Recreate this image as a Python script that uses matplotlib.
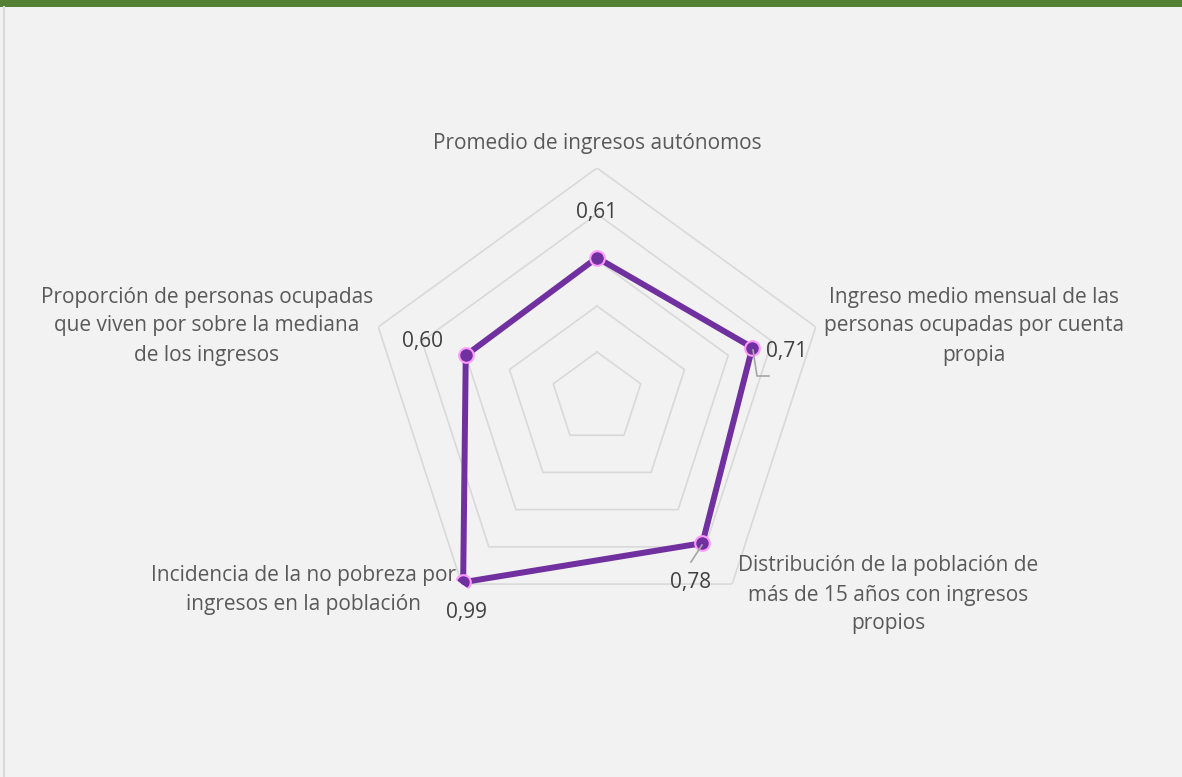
import numpy as np
import matplotlib.pyplot as plt
from matplotlib.lines import Line2D
from matplotlib.patches import Rectangle

plt.rcParams['font.family'] = ['Open Sans', 'DejaVu Sans']

# Data
categorias = ['Promedio de ingresos autónomos',
              'Ingreso medio mensual de las\npersonas ocupadas por cuenta\npropia',
              'Distribución de la población de\nmás de 15 años con ingresos\npropios',
              'Incidencia de la no pobreza por\ningresos en la población',
              'Proporción de personas ocupadas\nque viven por sobre la mediana\nde los ingresos']
valores = [0.61, 0.71, 0.78, 0.99, 0.60]
etiquetas = ['0,61', '0,71', '0,78', '0,99', '0,60']
anillos = [0.2, 0.4, 0.6, 0.8, 1.0]

W, H = 1182, 777
fig = plt.figure(figsize=(W / 100, H / 100), dpi=100)
fig.patch.set_facecolor('#f2f2f2')

def px(x, y):
    # pixel coords (from top-left) -> figure fraction
    return x / W, 1 - y / H

# green header bar and left border
fig.add_artist(Rectangle((0, 1 - 7 / H), 1, 7 / H, transform=fig.transFigure,
                         facecolor='#548235', edgecolor='none'))
fig.add_artist(Line2D([4 / W, 4 / W], [0, 1 - 7 / H], transform=fig.transFigure,
                      color='#d9d9d9', lw=1.5))

# radar axes: center (597, 398), radius 230 px
cx, cy, R = 597, 398, 230
ax = fig.add_axes([(cx - R) / W, (H - cy - R) / H, 2 * R / W, 2 * R / H], projection='polar')
ax.set_facecolor('none')
ax.set_theta_zero_location('N')
ax.set_theta_direction(-1)
ax.set_ylim(0, 1)
ax.grid(False)
ax.spines['polar'].set_visible(False)
ax.set_xticks([])
ax.set_yticks([])

n = len(valores)
ang = np.linspace(0, 2 * np.pi, n, endpoint=False)
ang_c = np.append(ang, ang[0])

for r in anillos:
    ax.plot(ang_c, [r] * (n + 1), color='#d9d9d9', lw=1.2, zorder=1)

vals_c = np.append(valores, valores[0])
ax.plot(ang_c, vals_c, color='#7030a0', lw=4.3, zorder=3, solid_joinstyle='miter')
ax.plot(ang, valores, 'o', color='#7030a0', markersize=10.5,
        markeredgecolor='#ff99ff', markeredgewidth=1.5, zorder=4)

# data labels (offsets in pixels)
offs = [(0, 45), (34, -4), (-12, -39), (3, -30), (-43, 14)]
for a, v, t, o in zip(ang, valores, etiquetas, offs):
    ax.annotate(t, (a, v), xytext=o, textcoords='offset pixels',
                ha='center', va='center', fontsize=15, color='#404040')

# leader lines
fig.add_artist(Line2D(*zip(px(753, 350), px(757, 376), px(769, 376)),
                      transform=fig.transFigure, color='#a6a6a6', lw=1.2))
fig.add_artist(Line2D(*zip(px(702, 545), px(691, 562)),
                      transform=fig.transFigure, color='#a6a6a6', lw=1.2))

# category labels
pos = [(597, 143), (974, 326), (888, 595), (304, 590), (207, 326)]
for c, p in zip(categorias, pos):
    fig.text(*px(*p), c, ha='center', va='center', fontsize=15,
             color='#595959', linespacing=1.5)

fig.savefig('out.png', dpi=100, facecolor=fig.get_facecolor())
